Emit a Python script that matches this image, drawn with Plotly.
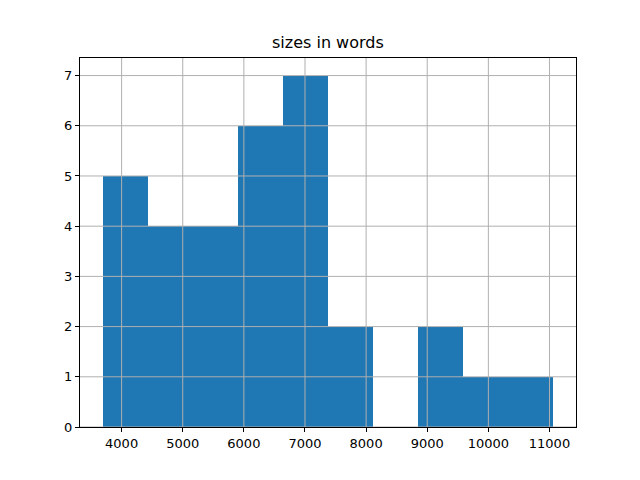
import plotly.graph_objects as go

# Histogram of sizes in words (bin edges and counts)
bin_edges = [3688, 4426, 5164, 5901, 6639, 7377, 8114, 8852, 9590, 10327, 11065]
counts = [5, 4, 4, 6, 7, 2, 0, 2, 1, 1]
x_ticks = [4000, 5000, 6000, 7000, 8000, 9000, 10000, 11000]
y_ticks = [0, 1, 2, 3, 4, 5, 6, 7]
title_text = "sizes in words"

lefts = bin_edges[:-1]
widths = [b - a for a, b in zip(bin_edges[:-1], bin_edges[1:])]
centers = [a + w / 2 for a, w in zip(lefts, widths)]

fig = go.Figure(go.Bar(x=centers, y=counts, width=widths,
                       marker=dict(color="#1f77b4", line=dict(width=0)),
                       hoverinfo="skip"))

span = bin_edges[-1] - bin_edges[0]
xr = [bin_edges[0] - 0.05 * span, bin_edges[-1] + 0.05 * span]
yr = [0, max(counts) * 1.05]

axis_common = dict(showline=True, linecolor="black", linewidth=1, mirror=True,
                   ticks="outside", ticklen=4, tickwidth=1, tickcolor="black",
                   showgrid=False, zeroline=False, layer="above traces",
                   tickfont=dict(family="DejaVu Sans", size=13, color="black"))

# grid lines drawn above the bars, as in the reference
grid_shapes = []
for v in x_ticks:
    grid_shapes.append(dict(type="line", xref="x", yref="paper", x0=v, x1=v, y0=0, y1=1,
                            line=dict(color="#b0b0b0", width=1), layer="above"))
for v in y_ticks:
    grid_shapes.append(dict(type="line", xref="paper", yref="y", x0=0, x1=1, y0=v, y1=v,
                            line=dict(color="#b0b0b0", width=1), layer="above"))

fig.update_layout(
    width=640, height=480,
    margin=dict(l=72, r=72, t=50, b=61, pad=0),
    paper_bgcolor="white", plot_bgcolor="white",
    bargap=0, showlegend=False,
    shapes=grid_shapes,
    xaxis=dict(range=xr, tickvals=x_ticks, ticktext=[str(v) for v in x_ticks], **axis_common),
    yaxis=dict(range=yr, tickvals=y_ticks, ticktext=[str(v) for v in y_ticks], **axis_common),
    annotations=[dict(text=title_text, x=0.5, y=1, xref="paper", yref="paper",
                      xanchor="center", yanchor="bottom", yshift=4, showarrow=False,
                      font=dict(family="DejaVu Sans", size=16, color="black"))],
)

fig.write_html("out.html")
